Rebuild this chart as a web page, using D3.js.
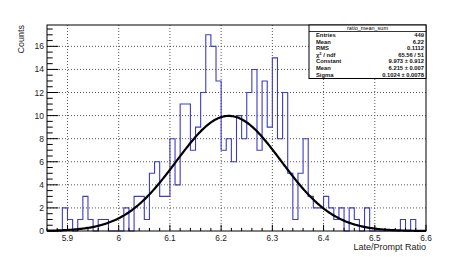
<!DOCTYPE html>
<html>
<head>
<meta charset="utf-8">
<script src="https://cdn.jsdelivr.net/npm/d3@7"></script>
<style>
    body { margin: 0; background: #fff; }
    text { font-family: "Liberation Sans", Arial, sans-serif; }
</style>
</head>
<body>
<div id="histVis"></div>
<script>
// histogram contents, 74 bins of 0.01 from 5.86 to 6.60
const binLow = 5.86;
const binWidth = 0.01;
const binCounts = [
    0, 0, 0, 2, 1, 0, 1, 3, 1, 0,
    1, 1, 0, 0, 0, 2, 0, 3, 3, 1,
    5, 6, 3, 3, 8, 4, 11, 11, 7, 9,
    12, 17, 16, 13, 7, 8, 6, 10, 8, 12,
    14, 7, 13, 9, 15, 8, 12, 5, 1, 5,
    8, 3, 2, 2, 3, 2, 1, 2, 0, 2,
    1, 0, 2, 0, 0, 0, 0, 0, 0, 1,
    0, 1, 0, 0
];

// gaus fit result (from the stats box)
const fitConstant = 9.973;
const fitMean = 6.215;
const fitSigma = 0.1024;

const xTicks = [5.9, 6.0, 6.1, 6.2, 6.3, 6.4, 6.5, 6.6];
const xTickLabels = ["5.9", "6", "6.1", "6.2", "6.3", "6.4", "6.5", "6.6"];
const yTicks = [0, 2, 4, 6, 8, 10, 12, 14, 16];

const statsTitle = "ratio_mean_sum";
const statsLabels = ["Entries", "Mean", "RMS", "chi2", "Constant", "Mean", "Sigma"];
const statsValues = ["449", "6.22", "0.1112", "65.56 / 51", "9.973 \u00b1 0.912", "6.215 \u00b1 0.007", "0.1024 \u00b1 0.0078"];

class HistVis {
    constructor(parentElement) {
        this.parentElement = parentElement;
        this.initVis();
    }

    initVis() {
        let vis = this;

        vis.margin = {top: 25, right: 47, bottom: 26, left: 47};
        vis.width = 473 - vis.margin.left - vis.margin.right;
        vis.height = 257 - vis.margin.top - vis.margin.bottom;

        vis.svg = d3.select("#" + vis.parentElement)
            .append("svg")
            .attr("width", 473)
            .attr("height", 257)
            .append("g")
            .attr("transform", "translate(" + vis.margin.left + "," + vis.margin.top + ")");

        let xMax = binLow + binCounts.length * binWidth;
        vis.x = d3.scaleLinear().domain([binLow, xMax]).range([0, vis.width]);
        vis.y = d3.scaleLinear().domain([0, d3.max(binCounts) * 1.05]).range([vis.height, 0]);

        // grid
        vis.svg.append("g").selectAll("line")
            .data(xTicks.slice(0, -1))
            .enter().append("line")
            .attr("x1", d => vis.x(d)).attr("x2", d => vis.x(d))
            .attr("y1", 0).attr("y2", vis.height)
            .attr("stroke", "#555").attr("stroke-width", 1)
            .attr("stroke-dasharray", "1,2");
        vis.svg.append("g").selectAll("line")
            .data(yTicks.slice(1))
            .enter().append("line")
            .attr("x1", 0).attr("x2", vis.width)
            .attr("y1", d => vis.y(d)).attr("y2", d => vis.y(d))
            .attr("stroke", "#555").attr("stroke-width", 1)
            .attr("stroke-dasharray", "1,2");

        // histogram outline
        let path = d3.path();
        path.moveTo(vis.x(binLow), vis.y(0));
        binCounts.forEach((c, i) => {
            let x0 = vis.x(binLow + i * binWidth);
            let x1 = vis.x(binLow + (i + 1) * binWidth);
            path.lineTo(x0, vis.y(c));
            path.lineTo(x1, vis.y(c));
        });
        path.lineTo(vis.x(xMax), vis.y(0));
        vis.svg.append("path")
            .attr("d", path.toString())
            .attr("fill", "none")
            .attr("stroke", "#3c3cc8")
            .attr("stroke-width", 1.1);

        // fit curve
        let fitX = d3.range(0, 301).map(k => binLow + (xMax - binLow) * k / 300);
        let line = d3.line()
            .x(d => vis.x(d))
            .y(d => vis.y(fitConstant * Math.exp(-0.5 * Math.pow((d - fitMean) / fitSigma, 2))));
        vis.svg.append("path")
            .datum(fitX)
            .attr("d", line)
            .attr("fill", "none")
            .attr("stroke", "#000")
            .attr("stroke-width", 2.2);

        // axes
        let xMinor = d3.range(0, 38).map(k => 5.86 + k * 0.02);
        vis.svg.append("g").selectAll("line")
            .data(xMinor)
            .enter().append("line")
            .attr("x1", d => vis.x(d)).attr("x2", d => vis.x(d))
            .attr("y1", vis.height).attr("y2", d => {
                let major = xTicks.some(t => Math.abs(t - d) < 1e-6);
                return vis.height - (major ? 6.2 : 3.1);
            })
            .attr("stroke", "#000").attr("stroke-width", 1);
        vis.svg.append("g").selectAll("text")
            .data(xTicks)
            .enter().append("text")
            .attr("x", d => vis.x(d))
            .attr("y", vis.height + 9.5)
            .attr("text-anchor", "middle")
            .attr("font-size", "8.3px")
            .attr("fill", "#222")
            .text((d, i) => xTickLabels[i]);

        let yMinor = d3.range(0, 36).map(k => k * 0.5);
        vis.svg.append("g").selectAll("line")
            .data(yMinor)
            .enter().append("line")
            .attr("x1", 0).attr("x2", d => (d % 2 === 0 ? 11.4 : 5.7))
            .attr("y1", d => vis.y(d)).attr("y2", d => vis.y(d))
            .attr("stroke", "#000").attr("stroke-width", 1);
        vis.svg.append("g").selectAll("text")
            .data(yTicks)
            .enter().append("text")
            .attr("x", -3)
            .attr("y", d => vis.y(d) + 3)
            .attr("text-anchor", "end")
            .attr("font-size", "8.5px")
            .attr("fill", "#222")
            .text(d => d);

        // frame
        vis.svg.append("rect")
            .attr("x", 0).attr("y", 0)
            .attr("width", vis.width).attr("height", vis.height)
            .attr("fill", "none").attr("stroke", "#000").attr("stroke-width", 1);

        // axis titles
        vis.svg.append("text")
            .attr("text-anchor", "end")
            .attr("transform", "translate(-23,0) rotate(-90)")
            .attr("font-size", "9px")
            .attr("fill", "#222")
            .text("Counts");
        vis.svg.append("text")
            .attr("text-anchor", "end")
            .attr("x", vis.width)
            .attr("y", vis.height + 18.5)
            .attr("font-size", "9px")
            .attr("fill", "#222")
            .text("Late/Prompt Ratio");

        // stats box
        let box = vis.svg.append("g").attr("transform", "translate(" + (309 - vis.margin.left) + ",0)");
        box.append("rect")
            .attr("x", 0).attr("y", 0).attr("width", 117).attr("height", 53.5)
            .attr("fill", "#fff").attr("stroke", "#000").attr("stroke-width", 1);
        box.append("line")
            .attr("x1", 0).attr("x2", 117).attr("y1", 6.5).attr("y2", 6.5)
            .attr("stroke", "#000").attr("stroke-width", 0.8);
        box.append("text")
            .attr("x", 58.5).attr("y", 5.3)
            .attr("text-anchor", "middle")
            .attr("font-size", "5.5px")
            .text(statsTitle);
        statsLabels.forEach((lab, k) => {
            let yy = 12 + k * 6.6;
            let t = box.append("text")
                .attr("x", 7).attr("y", yy)
                .attr("font-size", "5.8px")
                .attr("font-weight", "bold")
                .attr("fill", "#111");
            if (lab === "chi2") {
                t.append("tspan").text("\u03c7");
                t.append("tspan").attr("dy", -2).attr("font-size", "4px").text("2");
                t.append("tspan").attr("dy", 2).text(" / ndf");
            } else {
                t.text(lab);
            }
            box.append("text")
                .attr("x", 115).attr("y", yy)
                .attr("text-anchor", "end")
                .attr("font-size", "5.8px")
                .attr("font-weight", "bold")
                .attr("fill", "#111")
                .text(statsValues[k]);
        });
    }
}

new HistVis("histVis");
</script>
</body>
</html>
